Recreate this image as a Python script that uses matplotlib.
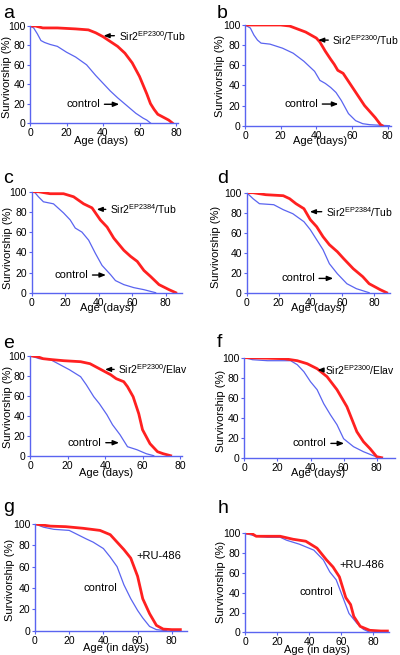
import matplotlib
matplotlib.use("Agg")
import matplotlib.pyplot as plt

plt.rcParams['font.family'] = ['Liberation Sans', 'DejaVu Sans']
plt.rcParams['mathtext.fontset'] = 'custom'
plt.rcParams['mathtext.rm'] = 'Liberation Sans'
plt.rcParams['mathtext.it'] = 'Liberation Sans:italic'

RED = '#ff2020'
BLUE = '#5a64f0'
W, H = 400, 655

# ---- survival data (age in days, survivorship in %) ----
a_sir2_age = [0, 3, 7, 15, 25, 32, 36, 40, 44, 48, 52, 56, 60, 64, 66, 68, 70, 72, 74, 76, 78]
a_sir2_surv = [100, 100, 98, 98, 97, 96, 93, 89, 84, 79, 72, 62, 48, 30, 20, 14, 9, 7, 5, 3, 0]
a_ctrl_age = [0, 2, 4, 6, 8, 11, 15, 20, 25, 31, 36, 40, 44, 48, 53, 58, 62, 64, 66]
a_ctrl_surv = [100, 98, 92, 85, 83, 81, 79, 73, 68, 60, 49, 41, 33, 26, 18, 10, 5, 3, 0]

b_sir2_age = [0, 10, 20, 25, 28, 31, 34, 37, 40, 42, 45, 48, 50, 52, 55, 58, 61, 64, 67, 70, 73, 76, 77]
b_sir2_surv = [100, 100, 100, 99, 97, 95, 93, 90, 87, 83, 74, 66, 61, 55, 52, 44, 36, 28, 20, 14, 8, 1, 0]
b_ctrl_age = [0, 3, 5, 7, 9, 14, 21, 27, 33, 36, 39, 42, 45, 48, 51, 54, 58, 62, 66, 70, 75, 81]
b_ctrl_surv = [100, 97, 90, 85, 82, 81, 77, 72, 64, 59, 54, 45, 42, 38, 33, 25, 12, 5, 2, 1, 0.5, 0]

c_sir2_age = [0, 4, 11, 19, 25, 31, 36, 41, 45, 49, 55, 59, 63, 67, 71, 76, 82, 86]
c_sir2_surv = [100, 100, 98, 98, 95, 88, 84, 72, 65, 54, 42, 36, 31, 22, 16, 8, 3, 0]
c_ctrl_age = [0, 2, 4, 7, 13, 19, 23, 26, 30, 34, 38, 42, 47, 50, 55, 61, 67, 74]
c_ctrl_surv = [100, 99, 95, 90, 88, 79, 72, 64, 60, 52, 39, 27, 18, 12, 8, 5, 3, 0]

d_sir2_age = [0, 4, 12, 23, 27, 31, 36, 40, 44, 48, 52, 57, 61, 67, 73, 77, 84, 88]
d_sir2_surv = [100, 100, 98, 97, 94, 89, 84, 73, 66, 56, 48, 41, 34, 24, 16, 9, 3, 0]
d_ctrl_age = [0, 4, 8, 17, 23, 29, 36, 40, 44, 48, 52, 57, 63, 69, 75, 77]
d_ctrl_surv = [100, 94, 89, 88, 83, 79, 71, 63, 53, 43, 29, 19, 9, 4, 1, 0]

e_sir2_age = [0, 4, 7, 12, 18, 27, 32, 37, 43, 46, 50, 52, 55, 58, 60, 64, 68, 71, 75]
e_sir2_surv = [100, 99, 97, 96, 95, 94, 92, 87, 81, 77, 74, 69, 59, 42, 26, 12, 4, 2, 0]
e_ctrl_age = [0, 5, 11, 16, 21, 27, 30, 34, 37, 41, 44, 48, 52, 57, 62, 66]
e_ctrl_surv = [100, 97, 96, 91, 86, 79, 71, 59, 52, 41, 31, 21, 9, 6, 2, 0]

f_sir2_age = [0, 3, 24, 32, 38, 44, 50, 56, 62, 68, 72, 76, 80, 83]
f_sir2_surv = [100, 100, 99, 97, 94, 89, 81, 68, 51, 26, 16, 9, 1, 0]
f_ctrl_age = [0, 5, 14, 28, 32, 36, 40, 44, 48, 52, 56, 60, 66, 72, 78, 82]
f_ctrl_surv = [100, 98, 97, 97, 93, 86, 76, 68, 54, 43, 33, 19, 11, 6, 2, 0]

g_ru_age = [0, 9, 18, 28, 38, 44, 48, 52, 56, 60, 63, 67, 71, 75, 80, 85]
g_ru_surv = [100, 98, 97.5, 96, 94, 90, 83, 76, 68, 51, 30, 16, 5, 1.5, 1, 1]
g_ctrl_age = [0, 5, 11, 20, 30, 34, 40, 44, 48, 52, 56, 60, 63, 67, 71, 77]
g_ctrl_surv = [100, 97, 95, 94, 86, 83, 77, 69, 60, 43, 30, 19, 12, 4, 1, 0]

h_ru_age = [0, 4, 7, 14, 22, 30, 38, 45, 51, 55, 59, 63, 66, 68, 72, 78, 85, 89]
h_ru_surv = [100, 100, 97, 97, 97, 94, 92, 85, 73, 66, 56, 35, 28, 16, 6, 2, 1.3, 1.3]
h_ctrl_age = [0, 7, 14, 22, 26, 34, 43, 49, 53, 57, 61, 65, 70, 74, 78]
h_ctrl_surv = [100, 97, 96, 96, 93, 89, 83, 73, 61, 53, 36, 19, 9, 3, 0]

letters = ['a', 'b', 'c', 'd', 'e', 'f', 'g', 'h']
treat_labels = ['Sir2$^{\\rm EP2300}$/Tub', 'Sir2$^{\\rm EP2300}$/Tub',
                'Sir2$^{\\rm EP2384}$/Tub', 'Sir2$^{\\rm EP2384}$/Tub',
                'Sir2$^{\\rm EP2300}$/Elav', 'Sir2$^{\\rm EP2300}$/Elav',
                '+RU-486', '+RU-486']
x_labels = ['Age (days)'] * 6 + ['Age (in days)'] * 2
y_ticks = [0, 20, 40, 60, 80, 100]
x_ticks = [0, 20, 40, 60, 80]

series = [
    (a_sir2_age, a_sir2_surv, a_ctrl_age, a_ctrl_surv),
    (b_sir2_age, b_sir2_surv, b_ctrl_age, b_ctrl_surv),
    (c_sir2_age, c_sir2_surv, c_ctrl_age, c_ctrl_surv),
    (d_sir2_age, d_sir2_surv, d_ctrl_age, d_ctrl_surv),
    (e_sir2_age, e_sir2_surv, e_ctrl_age, e_ctrl_surv),
    (f_sir2_age, f_sir2_surv, f_ctrl_age, f_ctrl_surv),
    (g_ru_age, g_ru_surv, g_ctrl_age, g_ctrl_surv),
    (h_ru_age, h_ru_surv, h_ctrl_age, h_ctrl_surv),
]

# ---- layout in pixels: left, top, bottom, px per day, xmax ----
boxes = [
    (30, 26, 123, 1.825, 81),
    (245, 25, 125.7, 1.784, 82),
    (31.7, 191.7, 292.7, 1.675, 90),
    (246.7, 192.7, 292.7, 1.59, 90),
    (30, 355.7, 455.7, 1.875, 81),
    (244.3, 357.7, 457.7, 1.655, 91),
    (35, 524, 630.7, 1.71, 89),
    (245, 533.3, 632.3, 1.60, 90),
]
letter_pos = [(3, 18), (217, 18), (3, 183), (217, 183), (3, 348), (217, 347), (3, 512), (218, 513)]
# xlabel: center x in axes fraction, px below the axis
xlab_pos = [(0.48, 18), (0.51, 15), (0.50, 15.3), (0.50, 15.3), (0.50, 17.6), (0.49, 15.6), (0.53, 17.6), (0.50, 17.7)]
# ylabel center in figure px
ylab_pos = [(7, 77), (220, 76), (8, 248), (216, 247), (8, 407), (220.7, 411), (10.5, 580), (221, 582)]
# annotation positions (data coords): treatment text, treatment arrow tip, control text, control arrow tip
ann = [
    ((48.5, 90), (40.3, 90), (38.5, 19.3), (48.9, 19.3)),
    ((49.0, 85), (41, 85), (41, 21.5), (52.3, 21.5)),
    ((46.7, 82.5), (38.8, 82.5), (33.8, 17.5), (44.3, 17.5)),
    ((49.8, 81), (39.7, 81), (42.9, 14.3), (54.4, 14.3)),
    ((47.1, 86.3), (40, 86.3), (38.2, 13), (47.5, 13)),
    ((49.0, 87.7), (44.2, 87.7), (49.8, 14.3), (60.3, 14.3)),
    ((59.5, 70), None, (28.3, 39.7), None),
    ((58.8, 68), None, (33.9, 40.4), None),
]

fig = plt.figure(figsize=(W / 100, H / 100), dpi=100)

for i in range(8):
    left, top, bottom, ppd, xmax = boxes[i]
    width = ppd * xmax
    height = bottom - top
    ax = fig.add_axes([left / W, 1 - bottom / H, width / W, height / H])
    t_age, t_surv, c_age, c_surv = series[i]
    ax.plot(c_age, c_surv, color=BLUE, lw=0.9)
    ax.plot(t_age, t_surv, color=RED, lw=2.0)
    ax.set_xlim(0, xmax)
    ax.set_ylim(0, 100)
    ax.set_xticks(x_ticks)
    ax.set_yticks(y_ticks)
    for s in ['top', 'right']:
        ax.spines[s].set_visible(False)
    for s in ['left', 'bottom']:
        ax.spines[s].set_color(BLUE)
        ax.spines[s].set_linewidth(1.0)
    ax.tick_params(colors=BLUE, labelcolor='black', length=2, width=0.8, pad=1.5, labelsize=7.5)

    ax.set_xlabel(x_labels[i], fontsize=8)
    ax.xaxis.label.set_verticalalignment('center')
    ax.xaxis.set_label_coords(xlab_pos[i][0], -xlab_pos[i][1] / height)
    ax.set_ylabel('Survivorship (%)', fontsize=8)
    ax.yaxis.label.set_verticalalignment('center')
    yx, yy = ylab_pos[i]
    ax.yaxis.set_label_coords((yx - left) / width, (bottom - yy) / height)

    t_txt, t_tip, c_txt, c_tip = ann[i]
    arrow = dict(arrowstyle='-|>,head_length=0.45,head_width=0.18', color='black', lw=1.0,
                 shrinkA=1, shrinkB=0)
    if t_tip is not None:
        ax.annotate(treat_labels[i], xy=t_tip, xytext=t_txt, ha='left', va='center',
                    fontsize=7.5, arrowprops=arrow)
        ax.annotate('control', xy=c_tip, xytext=c_txt, ha='right', va='center',
                    fontsize=8, arrowprops=arrow)
    else:
        ax.text(t_txt[0], t_txt[1], treat_labels[i], ha='left', va='center', fontsize=8)
        ax.text(c_txt[0], c_txt[1], 'control', ha='left', va='center', fontsize=8)

    lx, ly = letter_pos[i]
    fig.text(lx / W, 1 - ly / H, letters[i], fontsize=14, ha='left', va='baseline')

fig.savefig('out.png', dpi=100)
